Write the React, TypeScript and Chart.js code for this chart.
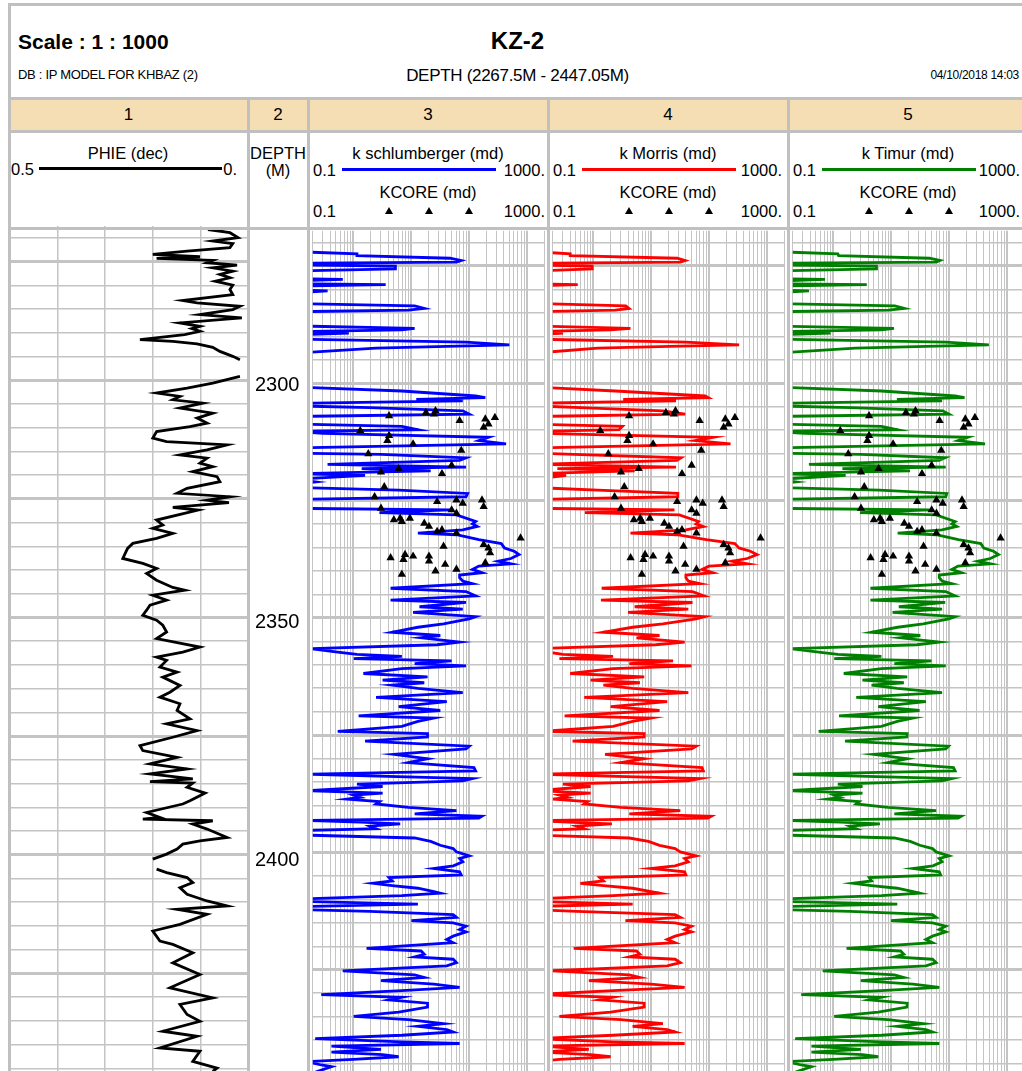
import React, { useEffect, useRef } from "react";
import { Chart, registerables } from "chart.js";

Chart.register(...registerables);

const FONT = '"Liberation Sans", Arial, Helvetica, sans-serif';
const GRID = "#c4c4c4";
const FRAME = "#c0c0c0";
const TAN = "#f5deb3";

const DEPTH_TOP = 2267.5;
const DEPTH_BOTTOM = 2447.05;
const depthLabels = [2300, 2350, 2400];

// Effective porosity (PHIE, dec); null marks a break in the log
const phieDepth = [
  2268.0, 2268.27, 2268.91, 2269.96, 2270.68, 2271.23, 2272.07, 2272.79, 2273.49, 2273.98,
  2274.33, 2274.76, 2275.24, 2275.75, 2276.3, 2277.02, 2277.71, 2278.41, 2279.13, 2279.97,
  2280.88, 2281.94, 2283.21, 2283.69, 2284.41, 2285.11, 2286.16, 2286.86, 2287.92, 2288.64,
  2289.12, 2289.69, 2290.39, 2291.44, 2291.8, 2292.35, 2293.07, 2293.92, 2294.97, 2295.67,
  2297.5, 2299.2, 2300.59, 2301.65, 2302.7, 2303.42, 2304.12, 2304.82, 2305.87, 2306.93,
  2307.98, 2309.04, 2309.76, 2310.82, 2312.21, 2312.93, 2313.62, 2314.68, 2315.74, 2316.43,
  2317.49, 2318.21, 2319.27, 2320.32, 2321.38, 2322.77, 2323.83, 2324.55, 2325.3, 2325.81,
  2326.79, 2327.36, 2329.47, 2330.52, 2331.22, 2332.28, 2333.33, 2334.39, 2335.45, 2337.56,
  2338.61, 2339.67, 2340.73, 2342.14, 2343.68, 2344.25, 2345.31, 2346.36, 2347.42, 2348.47,
  2349.53, 2350.59, 2351.64, 2353.06, 2354.46, 2356.23, 2357.29, 2358.34, 2359.04, 2360.46,
  2361.51, 2362.57, 2364.32, 2365.74, 2366.79, 2368.19, 2369.6, 2371.36, 2372.41, 2373.83,
  2375.24, 2376.99, 2378.05, 2379.47, 2380.86, 2381.92, 2382.97, 2384.03, 2384.6, 2384.9,
  2385.8, 2387.0, 2388.62, 2389.31, 2391.09, 2392.14, 2392.48, 2392.84, 2393.54, 2394.59,
  2396.37, 2397.06, 2397.76, 2398.82, 2399.87, 2400.93, 2402.0, 2403.04, 2403.76, 2404.81,
  2405.87, 2406.93, 2408.32, 2409.74, 2410.79, 2411.49, 2412.55, 2414.66, 2416.07, 2418.19,
  2418.89, 2420.66, 2422.77, 2425.22, 2428.05, 2430.16, 2431.56, 2433.67, 2435.09, 2437.2,
  2438.26, 2440.73, 2441.42, 2443.54, 2444.95, 2445.64,
];
const phieValue: (number | null)[] = [
  0.038, 0.084, 0.038, 0.021, 0.074, 0.032, 0.038, 0.128, 0.2, 0.101,
  0.192, 0.074, 0.086, 0.023, 0.074, 0.032, 0.059, 0.038, 0.069, 0.032,
  0.038, 0.032, 0.137, 0.107, 0.017, 0.032, 0.101, 0.013, 0.143, 0.101,
  0.118, 0.101, 0.133, 0.227, 0.158, 0.107, 0.074, 0.059, 0.032, 0.017,
  null, 0.017, 0.074, 0.128, 0.192, 0.143, 0.158, 0.095, 0.143, 0.074,
  0.107, 0.086, 0.122, 0.192, 0.2, 0.171, 0.044, 0.086, 0.143, 0.086,
  0.101, 0.074, 0.116, 0.065, 0.059, 0.128, 0.149, 0.038, 0.086, 0.04,
  0.158, 0.105, 0.192, 0.179, 0.2, 0.158, 0.192, 0.242, 0.253, 0.263,
  0.221, 0.192, 0.213, 0.192, 0.158, 0.133, 0.2, 0.171, 0.206, 0.213,
  0.221, 0.192, 0.179, 0.171, 0.192, 0.101, 0.137, 0.192, 0.171, 0.185,
  0.149, 0.179, 0.143, 0.164, 0.185, 0.143, 0.149, 0.122, 0.171, 0.107,
  0.158, 0.227, 0.221, 0.149, 0.206, 0.128, 0.206, 0.116, 0.206, 0.116,
  0.128, 0.09, 0.122, 0.137, 0.213, 0.185, 0.221, 0.074, 0.116, 0.086,
  0.044, 0.101, 0.137, 0.149, 0.171, 0.2, null, 0.192, 0.171, 0.128,
  0.116, 0.143, 0.128, 0.086, 0.044, 0.149, 0.086, 0.143, 0.2, 0.185,
  0.158, 0.116, 0.158, 0.101, 0.164, 0.074, 0.143, 0.128, 0.101, 0.179,
  0.107, 0.185, 0.101, 0.116, 0.065, 0.074,
];

// Permeability curves (md), sampled on a common depth list
const kDepth = [
  2267.6, 2271.94, 2272.43, 2272.79, 2273.35, 2273.84, 2274.19, 2274.4, 2274.76, 2275.04,
  2275.6, 2276.09, 2277.71, 2277.86, 2278.21, 2278.77, 2278.98, 2279.26, 2280.04, 2280.32,
  2280.67, 2282.99, 2283.49, 2284.05, 2284.4, 2284.75, 2287.78, 2288.28, 2288.63, 2288.98,
  2289.33, 2289.69, 2290.6, 2291.23, 2291.8, 2292.15, 2292.5, 2293.56, 2300.81, 2301.65,
  2302.71, 2303.06, 2303.42, 2303.77, 2304.26, 2304.82, 2305.18, 2305.88, 2306.58, 2307.08,
  2308.7, 2309.19, 2309.89, 2310.25, 2310.67, 2311.51, 2312.22, 2312.92, 2313.77, 2314.89,
  2315.17, 2315.88, 2316.44, 2317.29, 2317.85, 2318.2, 2318.69, 2319.26, 2319.61, 2320.5,
  2321.02, 2321.5, 2322.22, 2322.78, 2323.48, 2324.19, 2324.75, 2326.65, 2327.0, 2327.57,
  2328.06, 2329.47, 2329.96, 2330.52, 2331.23, 2331.93, 2332.28, 2333.34, 2334.18, 2335.1,
  2335.8, 2336.51, 2337.35, 2337.92, 2338.48, 2338.97, 2339.68, 2340.38, 2340.87, 2341.44,
  2342.14, 2342.71, 2343.69, 2344.4, 2345.31, 2346.23, 2346.72, 2347.63, 2348.12, 2348.83,
  2349.75, 2350.24, 2351.3, 2352.0, 2353.06, 2353.76, 2354.25, 2355.17, 2355.73, 2356.58,
  2357.28, 2357.77, 2358.2, 2358.69, 2359.18, 2359.74, 2360.24, 2360.8, 2361.86, 2362.56,
  2363.27, 2363.83, 2364.32, 2365.03, 2365.94, 2366.93, 2367.84, 2368.9, 2369.74, 2370.87,
  2371.36, 2372.07, 2373.12, 2374.18, 2374.67, 2375.38, 2376.29, 2377.35, 2377.91, 2379.11,
  2380.02, 2380.87, 2381.92, 2382.63, 2383.33, 2384.25, 2384.74, 2385.45, 2385.94, 2386.85,
  2387.35, 2387.77, 2388.26, 2388.62, 2389.18, 2389.67, 2390.38, 2391.08, 2391.78, 2392.28,
  2392.7, 2393.19, 2393.54, 2393.9, 2394.39, 2394.95, 2395.3, 2396.3, 2396.92, 2397.63,
  2398.47, 2399.18, 2399.88, 2400.73, 2401.29, 2402.0, 2402.84, 2403.4, 2404.11, 2404.81,
  2405.37, 2406.08, 2406.57, 2407.06, 2407.63, 2408.33, 2408.68, 2409.18, 2409.88, 2410.44,
  2411.01, 2411.5, 2412.2, 2412.55, 2413.26, 2413.82, 2414.53, 2415.02, 2415.72, 2416.43,
  2416.92, 2417.84, 2418.54, 2419.24, 2420.44, 2421.0, 2421.71, 2422.27, 2422.76, 2423.47,
  2424.17, 2425.23, 2426.07, 2426.64, 2427.34, 2428.05, 2428.75, 2429.45, 2430.3, 2430.86,
  2431.43, 2432.13, 2432.97, 2434.03, 2434.94, 2435.65, 2436.49, 2437.06, 2437.76, 2438.26,
  2438.96, 2439.66, 2440.37, 2440.72, 2441.28, 2441.99, 2442.55, 2443.11, 2443.54, 2444.1,
  2444.59, 2445.3, 2445.65, 2447.0,
];
const kSchlumberger = [
  0.05, 0.05, 0.58, 0.58, 23.5, 36.8, 30.4, 0.05, 0.05, 2.68,
  2.68, 0.05, 0.05, 0.33, 0.05, 0.05, 1.82, 0.05, 0.05, 0.18,
  0.05, 0.05, 5.76, 8.45, 4.47, 0.05, 0.05, 5.76, 3.46, 0.05,
  0.42, 0.05, 0.05, 44.5, 250, 20.7, 1.24, 0.05, 0.05, 3.46,
  65.3, 95.9, 6.15, 39.1, 0.05, 0.05, 0.97, 39.1, 50.6, 0.05,
  0.05, 3.46, 6.56, 0.05, 0.15, 109, 74.2, 219, 0.05, 0.05,
  1.51, 44.5, 34.5, 0.18, 44.5, 0.7, 10.9, 0.05, 0.8, 0.05,
  0.11, 0.05, 0.05, 3.05, 47.4, 44.5, 0.05, 0.05, 23.5, 1.42,
  30.4, 65.3, 57.4, 69.5, 39.1, 6.56, 30.4, 74.2, 181, 206,
  303, 367, 266, 160, 266, 74.2, 57.4, 84.1, 34.5, 34.5,
  39.1, 57.4, 2.21, 44.5, 65.3, 2.21, 44.5, 6.98, 39.1, 5.42,
  65.3, 50.6, 18.2, 6.56, 2.36, 16, 7.45, 34.5, 14.1, 0.09,
  0.27, 0.58, 3.46, 0.51, 25.1, 5.76, 44.5, 3.46, 0.75, 9.62,
  1.61, 8.45, 2.36, 6.56, 39.1, 1.24, 20.7, 3.05, 16, 0.62,
  12.4, 6.56, 3.46, 0.27, 9.62, 9.62, 0.8, 50.6, 44.5, 2.52,
  9.62, 4.47, 61.2, 65.3, 0.08, 57.4, 39.1, 0.58, 1.61, 0.08,
  1.61, 0.51, 0.66, 0.39, 1.42, 1.24, 4.47, 30.4, 5.76, 84.1,
  74, 0.08, 0.66, 3.24, 0.97, 1.24, 0.08, 0.08, 5.76, 10.9,
  16, 26.7, 30.4, 50.6, 34.5, 39.1, 27, 12.4, 34.5, 36.8,
  2.08, 2.36, 1.1, 2.36, 6.56, 12.4, 16, 3.46, 0.08, 0.08,
  6.56, 0.08, 0.08, 0.97, 26.7, 30.4, 5.07, 26.7, 44.5, 34.5,
  44.5, 26.7, 20.7, 26.7, 0.85, 7.45, 8.45, 5.76, 26.7, 30.4,
  20.7, 0.33, 5.76, 8.45, 1.51, 12.4, 34.5, 3.46, 0.14, 3.46,
  2.08, 9.62, 9.62, 3.05, 0.51, 4.47, 18.2, 6.56, 20.7, 26.7,
  3.46, 0.11, 3.46, 34.5, 0.21, 1.51, 0.21, 1.61, 3.05, 0.5,
  0.08, 0.14, 0.21, 0.1,
];
const kMorris = [
  0.05, 0.05, 0.2, 0.2, 14.1, 19.4, 16, 0.05, 0.05, 0.48,
  0.48, 0.05, 0.05, 0.05, 0.05, 0.05, 0.27, 0.05, 0.05, 0.05,
  0.05, 0.05, 1.82, 2.08, 1.2, 0.05, 0.05, 2.2, 1.0, 0.05,
  0.15, 0.05, 0.05, 20, 166, 10.5, 0.6, 0.05, 0.05, 1.2,
  43, 48.5, 1.65, 13.5, 0.05, 0.05, 0.3, 8, 19.4, 0.05,
  0.05, 1.6, 1.4, 0.05, 0.05, 59, 29, 118, 0.05, 0.05,
  0.23, 16.5, 14, 0.05, 13.5, 0.12, 2.6, 0.05, 0.17, 0.05,
  0.05, 0.05, 0.05, 0.6, 14.5, 14.5, 0.05, 0.05, 12.7, 0.36,
  15.4, 33, 30, 40, 20, 2.2, 14, 45, 140, 165,
  260, 340, 230, 125, 230, 50, 38, 58, 20, 20,
  22, 35, 0.7, 26, 41, 0.68, 26, 2.6, 22, 2.0,
  42, 30, 8, 2.4, 0.75, 7, 2.8, 19, 6, 0.05,
  0.08, 0.15, 1.1, 0.13, 12, 2.1, 25, 1.1, 0.2, 3.8,
  0.45, 3.2, 0.75, 2.4, 22, 0.35, 9.5, 1.0, 7, 0.16,
  5, 2.4, 1.1, 0.07, 3.8, 3.8, 0.22, 30, 25, 0.8,
  3.8, 1.5, 38, 40, 0.05, 35, 22, 0.15, 0.45, 0.05,
  0.45, 0.13, 0.18, 0.1, 0.4, 0.35, 1.5, 16, 2.1, 55,
  48, 0.05, 0.18, 1.05, 0.26, 0.35, 0.05, 0.05, 2.1, 4.5,
  7, 13, 16, 30, 19, 22, 13, 5, 19, 20,
  0.65, 0.75, 0.3, 0.75, 2.4, 5, 7, 1.1, 0.05, 0.05,
  2.4, 0.05, 0.05, 0.26, 13, 16, 1.8, 13, 25, 19,
  25, 13, 9.5, 13, 0.23, 2.8, 3.2, 2.1, 13, 16,
  9.5, 0.09, 2.1, 3.2, 0.42, 5, 19, 1.1, 0.05, 1.1,
  0.65, 3.8, 3.8, 1.0, 0.13, 1.5, 8, 2.4, 9.5, 13,
  1.1, 0.05, 1.1, 19, 0.06, 0.42, 0.06, 0.45, 1.0, 0.13,
  0.05, 0.05, 0.06, 0.05,
];
const kTimur = [
  0.05, 0.05, 0.6, 0.62, 23, 35, 30, 0.05, 0.05, 2.8,
  2.8, 0.05, 0.05, 0.36, 0.05, 0.05, 1.9, 0.05, 0.05, 0.19,
  0.05, 0.05, 5.8, 8.5, 4.5, 0.05, 0.05, 5.6, 3.4, 0.05,
  0.45, 0.05, 0.05, 44, 245, 20, 1.2, 0.05, 0.05, 3.4,
  64, 93, 6.3, 38, 0.05, 0.05, 1.0, 39, 50, 0.05,
  0.05, 3.4, 6.4, 0.05, 0.16, 106, 72, 210, 0.05, 0.05,
  1.5, 43, 34, 0.19, 44, 0.72, 10.6, 0.05, 0.82, 0.05,
  0.11, 0.05, 0.05, 3.1, 46, 44, 0.05, 0.05, 23, 1.45,
  30, 64, 56, 68, 38, 6.5, 30, 73, 178, 200,
  295, 360, 260, 158, 260, 72, 56, 82, 34, 34,
  38, 56, 2.2, 44, 64, 2.2, 43, 6.8, 38, 5.3,
  64, 50, 18, 6.5, 2.3, 16, 7.3, 34, 14, 0.09,
  0.28, 0.6, 3.4, 0.52, 25, 5.7, 44, 3.4, 0.76, 9.5,
  1.6, 8.3, 2.3, 6.4, 38, 1.25, 20, 3.0, 15.5, 0.63,
  12, 6.4, 3.4, 0.28, 9.5, 9.4, 0.8, 49, 44, 2.5,
  9.5, 4.4, 60, 64, 0.08, 56, 38, 0.6, 1.6, 0.08,
  1.6, 0.52, 0.66, 0.4, 1.4, 1.25, 4.4, 30, 5.7, 82,
  72, 0.08, 0.66, 3.2, 0.97, 1.25, 0.08, 0.08, 5.7, 10.7,
  15.7, 26, 30, 50, 34, 38, 26.5, 12, 34, 36,
  2.1, 2.3, 1.1, 2.3, 6.4, 12, 15.7, 3.4, 0.08, 0.08,
  6.4, 0.08, 0.08, 0.97, 26, 30, 5, 26, 44, 34,
  44, 26, 20, 26, 0.85, 7.3, 8.3, 5.7, 26, 30,
  20, 0.33, 5.7, 8.3, 1.5, 12, 34, 3.4, 0.14, 3.4,
  2.1, 9.5, 9.4, 3.0, 0.52, 4.4, 18, 6.4, 20, 26,
  3.4, 0.11, 3.4, 34, 0.21, 1.5, 0.21, 1.6, 3.0, 0.5,
  0.08, 0.14, 0.21, 0.1,
];

// Core permeability measurements (md)
const kcoreDepth = [
  2306.93, 2306.23, 2305.87, 2306.59, 2307.98, 2307.65, 2307.29, 2309.4, 2308.7, 2310.1,
  2311.15, 2312.21, 2312.93, 2314.32, 2315.04, 2317.49, 2318.21, 2318.91, 2319.27, 2322.07,
  2324.19, 2325.24, 2324.88, 2325.6, 2324.88, 2326.3, 2326.66, 2327.0, 2327.72, 2329.11,
  2328.77, 2329.47, 2328.77, 2329.83, 2330.52, 2331.58, 2331.22, 2331.94, 2332.99, 2334.39,
  2335.11, 2336.16, 2334.75, 2337.22, 2336.5, 2337.56, 2336.86, 2336.86, 2337.92, 2338.61,
  2338.28, 2340.03, 2339.67, 2340.73,
];
const kcoreValue = [
  2.08, 9.02, 13.2, 12.4, 34.5, 95.9, 140.7, 89.8, 108.8, 0.66,
  2.08, 1.95, 5.42, 36.8, 0.91, 25.1, 3.05, 1.51, 17.1, 1.72,
  1.17, 14.1, 30.4, 39.1, 84.1, 89.8, 1.51, 25.1, 30.4, 2.52,
  3.24, 3.46, 4.76, 8.45, 10.2, 14.1, 17.1, 30.4, 390, 89.8,
  108.8, 116, 18.2, 2.21, 3.93, 3.69, 5.42, 10.2, 10.2, 19.4,
  95.9, 13.2, 30.4, 3.46,
];

// Grid layout
const PLOT_TOP = 226;
const PLOT_HEIGHT = 852;
const depthGrid: number[] = [];
for (let d = 2270; d <= 2445; d += 5) depthGrid.push(d);
const logDecades = [0.05, 0.5, 5, 50, 500];
const logGrid: number[] = [];
for (const dec of logDecades) {
  for (let m = 1; m <= 9; m++) {
    const v = +(dec * m).toPrecision(4);
    if (v >= 0.1 && v <= 1000) logGrid.push(v);
  }
}
const isDecade = (v: number) => logDecades.some((d) => Math.abs(v - d) < 1e-9);

function depthAxis(display: boolean) {
  return {
    type: "linear",
    reverse: true,
    min: DEPTH_TOP,
    max: DEPTH_BOTTOM,
    display,
    afterBuildTicks: (s: any) => {
      s.ticks = depthGrid.map((v) => ({ value: v }));
    },
    ticks: { display: false },
    grid: {
      color: GRID,
      lineWidth: (c: any) => (c.tick && c.tick.value % 25 === 0 ? 3 : 1.5),
      drawTicks: false,
    },
    border: { display: false },
  };
}

const baseOptions = {
  responsive: false,
  maintainAspectRatio: false,
  animation: false,
  events: [],
  layout: { padding: 0 },
  plugins: { legend: { display: false }, tooltip: { enabled: false } },
};

function phieConfig() {
  return {
    type: "scatter",
    data: {
      datasets: [
        {
          data: phieValue.map((v, i) => ({ x: v === null ? NaN : v, y: phieDepth[i] })),
          showLine: true,
          borderColor: "#000",
          borderWidth: 2.8,
          pointRadius: 0,
          tension: 0,
        },
      ],
    },
    options: {
      ...baseOptions,
      scales: {
        x: {
          type: "linear",
          min: 0,
          max: 0.5,
          reverse: true,
          afterBuildTicks: (s: any) => {
            s.ticks = [0.1, 0.2, 0.3, 0.4].map((v) => ({ value: v }));
          },
          ticks: { display: false },
          grid: { color: GRID, lineWidth: 1.5, drawTicks: false },
          border: { display: false },
        },
        y: depthAxis(true),
      },
    },
  };
}

const depthLabelPlugin = {
  id: "depthLabels",
  afterDraw(chart: any) {
    const { ctx, chartArea, scales } = chart;
    ctx.save();
    ctx.font = `20px ${FONT}`;
    ctx.fillStyle = "#000";
    ctx.textAlign = "left";
    ctx.textBaseline = "alphabetic";
    for (const v of depthLabels) {
      const y = scales.y.getPixelForValue(v);
      ctx.fillText(String(v), chartArea.left + 6, y + 11);
    }
    ctx.restore();
  },
};

function depthConfig() {
  return {
    type: "scatter",
    data: { datasets: [] },
    options: {
      ...baseOptions,
      scales: {
        x: { type: "linear", min: 0, max: 1, display: false },
        y: depthAxis(false),
      },
    },
    plugins: [depthLabelPlugin],
  };
}

function permConfig(values: number[], color: string) {
  return {
    type: "scatter",
    data: {
      datasets: [
        {
          data: kcoreValue.map((v, i) => ({ x: v, y: kcoreDepth[i] })),
          showLine: false,
          pointStyle: "triangle",
          pointRadius: 4.8,
          backgroundColor: "#000",
          borderColor: "#000",
          borderWidth: 0,
        },
        {
          data: values.map((v, i) => ({ x: v, y: kDepth[i] })),
          showLine: true,
          borderColor: color,
          borderWidth: 2.8,
          pointRadius: 0,
          tension: 0,
        },
      ],
    },
    options: {
      ...baseOptions,
      scales: {
        x: {
          type: "logarithmic",
          min: 0.1,
          max: 1000,
          afterBuildTicks: (s: any) => {
            s.ticks = logGrid.map((v) => ({ value: v }));
          },
          ticks: { display: false },
          grid: {
            color: GRID,
            lineWidth: (c: any) => (c.tick && isDecade(c.tick.value) ? 2 : 1),
            drawTicks: false,
          },
          border: { display: false },
        },
        y: depthAxis(true),
      },
    },
  };
}

function ChartBox({ left, width, build }: { left: number; width: number; build: () => any }) {
  const ref = useRef<HTMLCanvasElement>(null);
  useEffect(() => {
    const chart = new Chart(ref.current as HTMLCanvasElement, build() as any);
    return () => chart.destroy();
  }, []);
  return (
    <div style={{ position: "absolute", left, top: PLOT_TOP, width, height: PLOT_HEIGHT }}>
      <canvas ref={ref} width={width} height={PLOT_HEIGHT} style={{ display: "block", width, height: PLOT_HEIGHT }} />
    </div>
  );
}

function Label({
  x,
  y,
  size,
  bold,
  align = "left",
  spacing,
  children,
}: {
  x: number;
  y: number;
  size: number;
  bold?: boolean;
  align?: "left" | "center" | "right";
  spacing?: number;
  children: React.ReactNode;
}) {
  const lh = Math.round(size * 1.2);
  const W = 400;
  const left = align === "left" ? x : align === "center" ? x - W / 2 : x - W;
  return (
    <div
      style={{
        position: "absolute",
        left,
        top: y - lh / 2,
        width: W,
        height: lh,
        lineHeight: `${lh}px`,
        fontSize: size,
        fontWeight: bold ? 700 : 400,
        textAlign: align,
        whiteSpace: "nowrap",
        letterSpacing: spacing,
        color: "#000",
      }}
    >
      {children}
    </div>
  );
}

function Rule({ x, y, w, h, color }: { x: number; y: number; w: number; h: number; color: string }) {
  return <div style={{ position: "absolute", left: x, top: y, width: w, height: h, background: color }} />;
}

function Tri({ x, y }: { x: number; y: number }) {
  return (
    <div
      style={{
        position: "absolute",
        left: x - 4,
        top: y - 3.5,
        width: 0,
        height: 0,
        borderLeft: "4px solid transparent",
        borderRight: "4px solid transparent",
        borderBottom: "7px solid #000",
      }}
    />
  );
}

const permTracks = [
  { left: 308, title: "3", name: "k schlumberger (md)", color: "#0000ff", right: 545 },
  { left: 548, title: "4", name: "k Morris (md)", color: "#ff0000", right: 782 },
  { left: 788, title: "5", name: "k Timur (md)", color: "#008000", right: 1020 },
];

export default function App() {
  const dividers = [248, 308, 548, 788];
  return (
    <div
      style={{
        position: "fixed",
        left: 0,
        top: 0,
        width: 1022,
        height: 1071,
        overflow: "hidden",
        background: "#fff",
        fontFamily: FONT,
      }}
    >
      {/* plot tracks */}
      <ChartBox left={10} width={238} build={phieConfig} />
      <ChartBox left={249} width={58} build={depthConfig} />
      <ChartBox left={308} width={241} build={() => permConfig(kSchlumberger, "#0000ff")} />
      <ChartBox left={548} width={241} build={() => permConfig(kMorris, "#ff0000")} />
      <ChartBox left={788} width={241} build={() => permConfig(kTimur, "#008000")} />

      {/* title block */}
      <Label x={18} y={41} size={21} bold>
        Scale : 1 : 1000
      </Label>
      <Label x={517.5} y={40} size={24} bold align="center">
        KZ-2
      </Label>
      <Label x={18} y={75} size={13} spacing={-0.3}>
        DB : IP MODEL FOR KHBAZ (2)
      </Label>
      <Label x={517.5} y={75.5} size={17} align="center" spacing={-0.3}>
        DEPTH (2267.5M - 2447.05M)
      </Label>
      <Label x={1019} y={75} size={12} align="right" spacing={-0.3}>
        04/10/2018 14:03
      </Label>

      {/* track number band */}
      <Rule x={9} y={98} w={1013} h={33} color={TAN} />
      <Label x={128.5} y={115} size={17} align="center">1</Label>
      <Label x={278} y={115} size={17} align="center">2</Label>
      {permTracks.map((t) => (
        <Label key={t.title} x={t.left + 120} y={115} size={17} align="center">
          {t.title}
        </Label>
      ))}

      {/* track headers */}
      <Label x={128} y={152.5} size={16.5} align="center">PHIE (dec)</Label>
      <Label x={11} y={168.5} size={16.5}>0.5</Label>
      <Rule x={39} y={167} w={183} h={3} color="#000" />
      <Label x={237} y={168.5} size={16.5} align="right">0.</Label>

      <Label x={278} y={152.5} size={16.5} align="center">DEPTH</Label>
      <Label x={278} y={170} size={16.5} align="center">(M)</Label>

      {permTracks.map((t) => (
        <React.Fragment key={t.name}>
          <Label x={t.left + 120} y={152.5} size={16.5} align="center">{t.name}</Label>
          <Label x={t.left + 5} y={169.5} size={16.5}>0.1</Label>
          <Rule x={t.left + 34} y={168} w={154} h={3} color={t.color} />
          <Label x={t.right} y={169.5} size={16.5} align="right">1000.</Label>
          <Label x={t.left + 120} y={192} size={16.5} align="center">KCORE (md)</Label>
          <Label x={t.left + 5} y={211} size={16.5}>0.1</Label>
          <Tri x={t.left + 81} y={210} />
          <Tri x={t.left + 121} y={210} />
          <Tri x={t.left + 161} y={210} />
          <Label x={t.right} y={211} size={16.5} align="right">1000.</Label>
        </React.Fragment>
      ))}

      {/* frame */}
      <Rule x={7.5} y={3} w={1015} h={2.5} color={FRAME} />
      <Rule x={7.5} y={3} w={3} h={1068} color={FRAME} />
      <Rule x={7.5} y={96.5} w={1015} h={3} color={FRAME} />
      <Rule x={7.5} y={130} w={1015} h={3} color={FRAME} />
      <Rule x={7.5} y={226.5} w={1015} h={3} color={FRAME} />
      {dividers.map((x) => (
        <Rule key={x} x={x - 1.5} y={96.5} w={3} h={975} color={FRAME} />
      ))}
    </div>
  );
}
